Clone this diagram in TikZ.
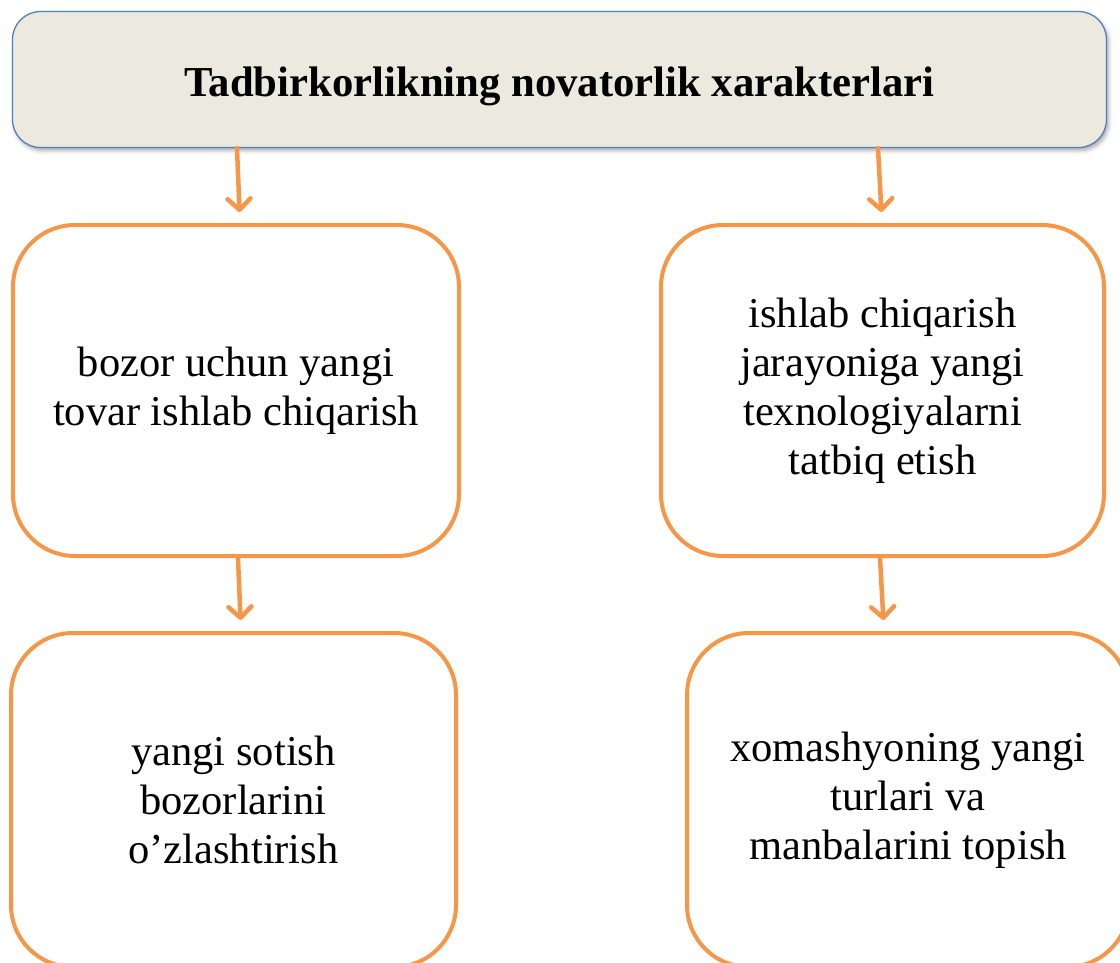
\documentclass[tikz,border=0pt]{standalone}
\usepackage{fontspec}
\setmainfont{Liberation Serif}
\usetikzlibrary{arrows.meta,shadows.blur}

\definecolor{headfill}{HTML}{ECEADF}
\definecolor{headline}{HTML}{4F81BD}
\definecolor{accent}{HTML}{F79646}

\tikzset{
  headbox/.style={draw=headline, line width=1.3pt, fill=headfill,
    rounded corners=28pt, inner sep=0pt,
    blur shadow={shadow xshift=2pt, shadow yshift=-3pt,
      shadow blur radius=4pt, shadow opacity=35}},
  itembox/.style={draw=accent, line width=4pt, fill=white,
    rounded corners=62pt, inner sep=0pt, align=center,
    font=\fontsize{42.5}{49}\selectfont},
  flow/.style={draw=accent, line width=4.5pt, line cap=round,
    -{Straight Barb[length=11pt,width=23pt,round]}, shorten >=11pt}
}

\begin{document}
\begin{tikzpicture}[x=1pt,y=-1pt]
  \useasboundingbox (0,0) rectangle (1120,962);
  \clip (0,0) rectangle (1120,962);

  % heading
  \node[headbox, minimum width=1094pt, minimum height=136pt] (head) at (559.5,79.5)
    {\fontsize{42.7}{48}\selectfont\bfseries
     \raisebox{-7pt}[\height][\depth]{Tadbirkorlikning novatorlik xarakterlari}};

  % first row
  \node[itembox, minimum width=446pt, minimum height=331pt] (prod) at (236,390.5)
    {bozor uchun yangi\\tovar ishlab chiqarish};
  \node[itembox, minimum width=443pt, minimum height=331pt] (tech) at (882.5,390.5)
    {ishlab chiqarish\\jarayoniga yangi\\texnologiyalarni\\tatbiq etish};

  % second row (runs past the lower edge)
  \node[itembox, minimum width=445pt, minimum height=334pt] (mark) at (233.5,800)
    {yangi sotish\\bozorlarini\\o’zlashtirish};
  \node[itembox, minimum width=442pt, minimum height=334pt] (raw) at (908,800)
    {xomashyoning yangi\\turlari va\\manbalarini topish};

  % connectors
  \draw[flow] ([xshift=-322.5pt]head.south) -- ([xshift=4pt]prod.north);
  \draw[flow] ([xshift=318.5pt]head.south) -- ([xshift=-0.5pt]tech.north);
  \draw[flow] ([xshift=2pt]prod.south) -- ([xshift=7.5pt]mark.north);
  \draw[flow] ([xshift=-2.5pt]tech.south) -- ([xshift=-24pt]raw.north);
\end{tikzpicture}
\end{document}
